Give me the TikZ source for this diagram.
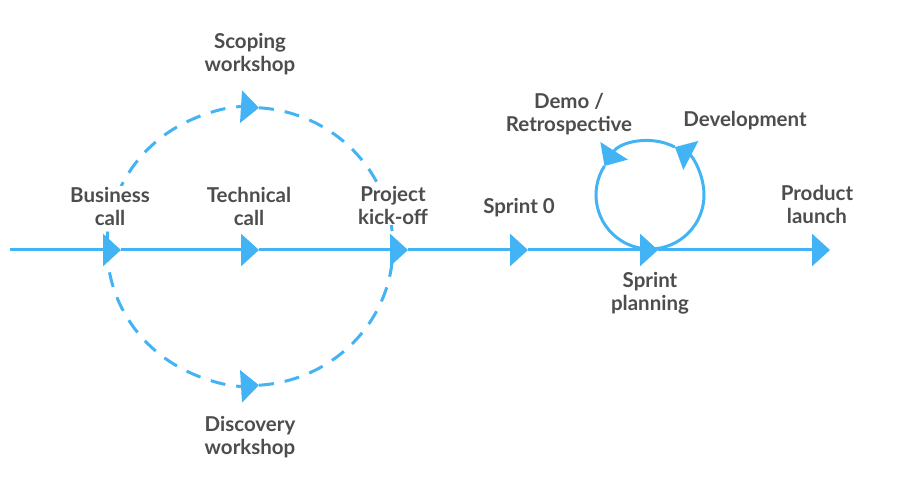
\documentclass[tikz,border=0pt]{standalone}
\usepackage{fontspec}
\setmainfont{Lato}
\usetikzlibrary{arrows.meta,calc}
\definecolor{flow}{RGB}{66,180,245}
\definecolor{txt}{RGB}{77,77,77}
\begin{document}
\begin{tikzpicture}[x=1pt,y=1pt,
  flowline/.style={draw=flow, line width=3pt},
  tipend/.style={-{Triangle[length=18pt,width=32pt]}},
  dashline/.style={flowline, dash pattern=on 15pt off 11pt},
  lbl/.style={text=txt, font=\fontsize{20.5}{23}\selectfont\bfseries, align=center, inner sep=1pt},
  masklbl/.style={lbl, fill=white}]
\useasboundingbox (0,0) rectangle (908,482);

% milestones on the main line
\coordinate (start) at (10,232);
\coordinate (bc) at (121,232);
\coordinate (tc) at (259,232);
\coordinate (pk) at (408,232);
\coordinate (s0) at (528,232);
\coordinate (sp) at (658,232);
\coordinate (fin) at (830,232);
\coordinate (ec) at (250,235.5);
\coordinate (lc) at (650,287);

% main timeline
\draw[flowline,tipend] (start) -- (bc);
\draw[flowline,tipend] (bc) -- (tc);
\draw[flowline,tipend] (tc) -- (pk);
\draw[flowline,tipend] (pk) -- (s0);
\draw[flowline,tipend] (s0) -- (sp);
\draw[flowline,tipend] (sp) -- (fin);

% dashed workshop loop
\draw[dashline,tipend] ($(ec)+(180:143 and 139)$) arc[start angle=180,end angle=86.4,x radius=143pt,y radius=139pt];
\draw[dashline] ($(ec)+(86.4:143 and 139)$) arc[start angle=86.4,end angle=0,x radius=143pt,y radius=139pt];
\draw[dashline,tipend] ($(ec)+(180:143 and 139)$) arc[start angle=180,end angle=273.6,x radius=143pt,y radius=139pt];
\draw[dashline] ($(ec)+(273.6:143 and 139)$) arc[start angle=273.6,end angle=360,x radius=143pt,y radius=139pt];

% sprint loop
\draw[flowline,tipend] ($(lc)+(270:54)$) arc[start angle=270,end angle=422.5,radius=54pt];
\draw[flowline,tipend] ($(lc)+(62.5:54)$) arc[start angle=62.5,end angle=147.5,radius=54pt];
\draw[flowline] ($(lc)+(147.5:54)$) arc[start angle=147.5,end angle=270,radius=54pt];

% labels
\node[lbl] (scop) at (250,428) {Scoping\\workshop};
\node[masklbl] (bus) at (110,276) {Business\\call};
\node[lbl] (tech) at (249,276) {Technical\\call};
\node[masklbl] (kick) at (393,277) {Project\\kick-off};
\node[lbl] (s0l) at (519,274) {Sprint 0};
\node[lbl] (demo) at (569,367.5) {Demo /\\Retrospective};
\node[lbl] (dev) at (745,361) {Development};
\node[lbl] (prod) at (817,278) {Product\\launch};
\node[lbl] (spl) at (650,189) {Sprint\\planning};
\node[lbl] (disc) at (250,45) {Discovery\\workshop};
\end{tikzpicture}
\end{document}
